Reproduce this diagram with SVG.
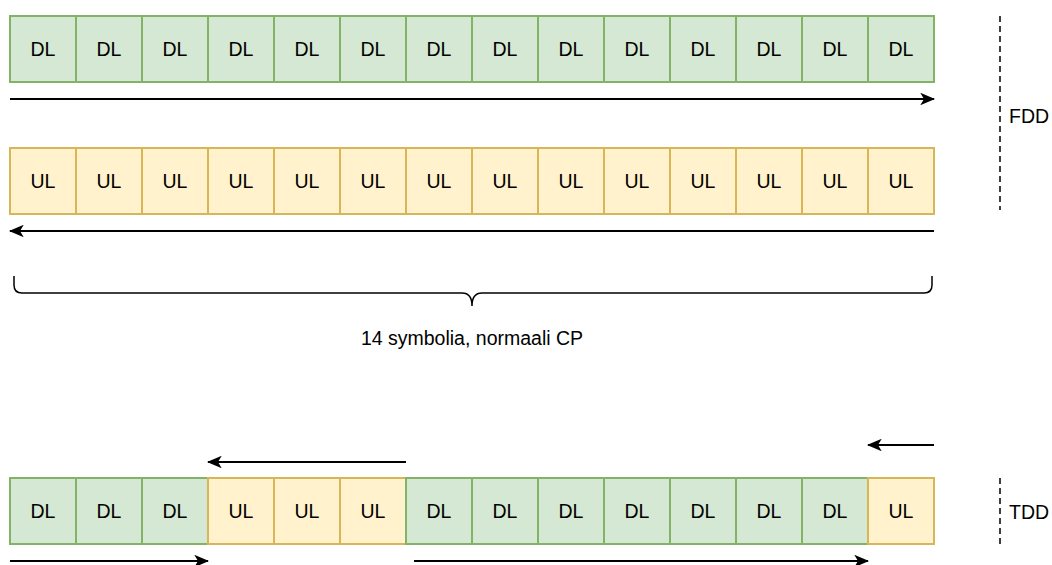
<svg xmlns="http://www.w3.org/2000/svg" width="1052" height="565" viewBox="0 0 1052 565">
<defs>
<style>
.dl{fill:#d5e8d4;stroke:#82b366;stroke-width:2}
.ul{fill:#fff2cc;stroke:#d6b656;stroke-width:2}
text{font-family:"Liberation Sans",Arial,sans-serif;font-size:19.5px;fill:#000}
.c{text-anchor:middle;dominant-baseline:central}
.l{dominant-baseline:central}
.a{stroke:#000;stroke-width:2;fill:none;marker-end:url(#ah)}
.d{stroke:#000;stroke-width:1.5;stroke-dasharray:6 4;fill:none}
</style>
<marker id="ah" viewBox="0 0 12 10" refX="11" refY="5" markerWidth="15" markerHeight="12.5" markerUnits="userSpaceOnUse" orient="auto">
<path d="M0,0 L12,5 L0,10 L3,5 Z" fill="#000"/>
</marker>
</defs>

<g id="fdd-dl">
<g id="fdl1"><rect class="dl" x="10" y="16" width="66" height="66"/><text class="c" x="43" y="49">DL</text></g>
<g id="fdl2"><rect class="dl" x="76" y="16" width="66" height="66"/><text class="c" x="109" y="49">DL</text></g>
<g id="fdl3"><rect class="dl" x="142" y="16" width="66" height="66"/><text class="c" x="175" y="49">DL</text></g>
<g id="fdl4"><rect class="dl" x="208" y="16" width="66" height="66"/><text class="c" x="241" y="49">DL</text></g>
<g id="fdl5"><rect class="dl" x="274" y="16" width="66" height="66"/><text class="c" x="307" y="49">DL</text></g>
<g id="fdl6"><rect class="dl" x="340" y="16" width="66" height="66"/><text class="c" x="373" y="49">DL</text></g>
<g id="fdl7"><rect class="dl" x="406" y="16" width="66" height="66"/><text class="c" x="439" y="49">DL</text></g>
<g id="fdl8"><rect class="dl" x="472" y="16" width="66" height="66"/><text class="c" x="505" y="49">DL</text></g>
<g id="fdl9"><rect class="dl" x="538" y="16" width="66" height="66"/><text class="c" x="571" y="49">DL</text></g>
<g id="fdl10"><rect class="dl" x="604" y="16" width="66" height="66"/><text class="c" x="637" y="49">DL</text></g>
<g id="fdl11"><rect class="dl" x="670" y="16" width="66" height="66"/><text class="c" x="703" y="49">DL</text></g>
<g id="fdl12"><rect class="dl" x="736" y="16" width="66" height="66"/><text class="c" x="769" y="49">DL</text></g>
<g id="fdl13"><rect class="dl" x="802" y="16" width="66" height="66"/><text class="c" x="835" y="49">DL</text></g>
<g id="fdl14"><rect class="dl" x="868" y="16" width="66" height="66"/><text class="c" x="901" y="49">DL</text></g>
</g>

<g id="fdd-ul">
<g id="ful1"><rect class="ul" x="10" y="148" width="66" height="66"/><text class="c" x="43" y="181">UL</text></g>
<g id="ful2"><rect class="ul" x="76" y="148" width="66" height="66"/><text class="c" x="109" y="181">UL</text></g>
<g id="ful3"><rect class="ul" x="142" y="148" width="66" height="66"/><text class="c" x="175" y="181">UL</text></g>
<g id="ful4"><rect class="ul" x="208" y="148" width="66" height="66"/><text class="c" x="241" y="181">UL</text></g>
<g id="ful5"><rect class="ul" x="274" y="148" width="66" height="66"/><text class="c" x="307" y="181">UL</text></g>
<g id="ful6"><rect class="ul" x="340" y="148" width="66" height="66"/><text class="c" x="373" y="181">UL</text></g>
<g id="ful7"><rect class="ul" x="406" y="148" width="66" height="66"/><text class="c" x="439" y="181">UL</text></g>
<g id="ful8"><rect class="ul" x="472" y="148" width="66" height="66"/><text class="c" x="505" y="181">UL</text></g>
<g id="ful9"><rect class="ul" x="538" y="148" width="66" height="66"/><text class="c" x="571" y="181">UL</text></g>
<g id="ful10"><rect class="ul" x="604" y="148" width="66" height="66"/><text class="c" x="637" y="181">UL</text></g>
<g id="ful11"><rect class="ul" x="670" y="148" width="66" height="66"/><text class="c" x="703" y="181">UL</text></g>
<g id="ful12"><rect class="ul" x="736" y="148" width="66" height="66"/><text class="c" x="769" y="181">UL</text></g>
<g id="ful13"><rect class="ul" x="802" y="148" width="66" height="66"/><text class="c" x="835" y="181">UL</text></g>
<g id="ful14"><rect class="ul" x="868" y="148" width="66" height="66"/><text class="c" x="901" y="181">UL</text></g>
</g>

<g id="tdd">
<g id="t1"><rect class="dl" x="10" y="478" width="66" height="66"/><text class="c" x="43" y="511">DL</text></g>
<g id="t2"><rect class="dl" x="76" y="478" width="66" height="66"/><text class="c" x="109" y="511">DL</text></g>
<g id="t3"><rect class="dl" x="142" y="478" width="66" height="66"/><text class="c" x="175" y="511">DL</text></g>
<g id="t4"><rect class="ul" x="208" y="478" width="66" height="66"/><text class="c" x="241" y="511">UL</text></g>
<g id="t5"><rect class="ul" x="274" y="478" width="66" height="66"/><text class="c" x="307" y="511">UL</text></g>
<g id="t6"><rect class="ul" x="340" y="478" width="66" height="66"/><text class="c" x="373" y="511">UL</text></g>
<g id="t7"><rect class="dl" x="406" y="478" width="66" height="66"/><text class="c" x="439" y="511">DL</text></g>
<g id="t8"><rect class="dl" x="472" y="478" width="66" height="66"/><text class="c" x="505" y="511">DL</text></g>
<g id="t9"><rect class="dl" x="538" y="478" width="66" height="66"/><text class="c" x="571" y="511">DL</text></g>
<g id="t10"><rect class="dl" x="604" y="478" width="66" height="66"/><text class="c" x="637" y="511">DL</text></g>
<g id="t11"><rect class="dl" x="670" y="478" width="66" height="66"/><text class="c" x="703" y="511">DL</text></g>
<g id="t12"><rect class="dl" x="736" y="478" width="66" height="66"/><text class="c" x="769" y="511">DL</text></g>
<g id="t13"><rect class="dl" x="802" y="478" width="66" height="66"/><text class="c" x="835" y="511">DL</text></g>
<g id="t14"><rect class="ul" x="868" y="478" width="66" height="66"/><text class="c" x="901" y="511">UL</text></g>
</g>

<g id="brace">
<path d="M14,276 L14,285 Q14,293 22,293 L462,293 Q472,293 472,306 Q472,293 482,293 L924,293 Q932,293 932,285 L932,276" fill="none" stroke="#000" stroke-width="1.5"/>
<text class="c" x="472" y="338">14 symbolia, normaali CP</text>
</g>

<g id="labels">
<line class="d" x1="1000" y1="16" x2="1000" y2="210"/>
<text class="l" x="1009" y="116">FDD</text>
<line class="d" x1="1000" y1="478" x2="1000" y2="544"/>
<text class="l" x="1009" y="512">TDD</text>
</g>

<g id="connectors">
<line class="a" x1="10" y1="99" x2="934" y2="99"/>
<line class="a" x1="934" y1="231" x2="10" y2="231"/>
<line class="a" x1="406" y1="462" x2="208" y2="462"/>
<line class="a" x1="934" y1="445" x2="868" y2="445"/>
<line class="a" x1="10" y1="561" x2="208" y2="561"/>
<line class="a" x1="414" y1="561" x2="868" y2="561"/>
</g>
</svg>
